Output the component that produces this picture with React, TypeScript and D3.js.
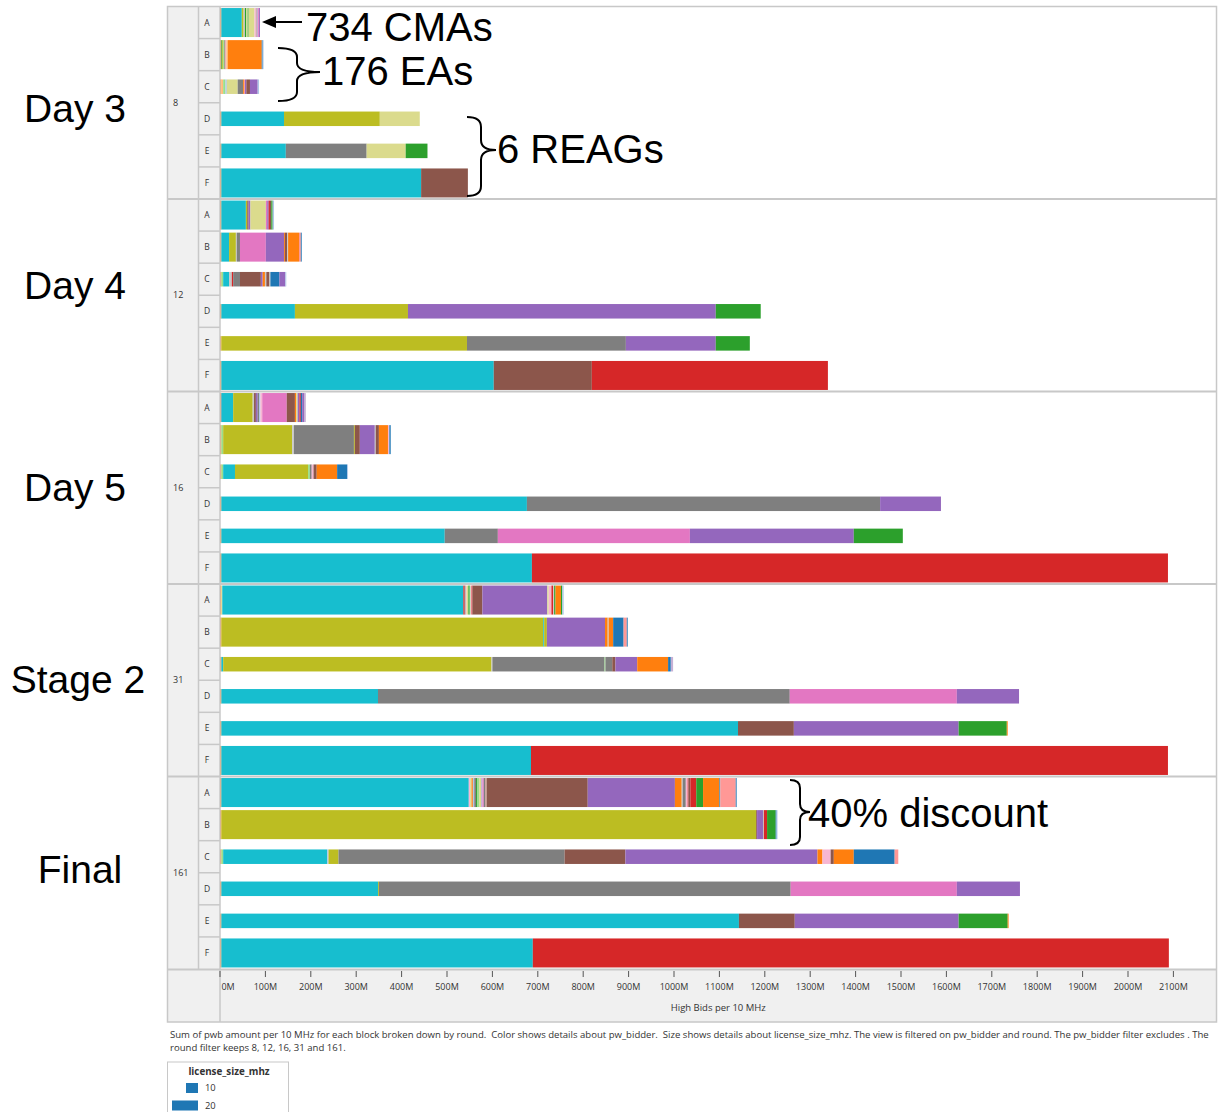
import React from "react";
import * as d3 from "d3";

type Seg = [string, number];

// bidders (pw_bidder)
const CY = "Bidder 01", OL = "Bidder 02", LO = "Bidder 03", GY = "Bidder 04", LG = "Bidder 05";
const PU = "Bidder 06", LP = "Bidder 07", BR = "Bidder 08", LB = "Bidder 09", RD = "Bidder 10";
const LR = "Bidder 11", GR = "Bidder 12", LGR = "Bidder 13", OR = "Bidder 14", LOR = "Bidder 15";
const BL = "Bidder 16", LBL = "Bidder 17", PK = "Bidder 18", LPK = "Bidder 19", LCY = "Bidder 20";

const BIDDERS = [CY, OL, LO, GY, LG, PU, LP, BR, LB, RD, LR, GR, LGR, OR, LOR, BL, LBL, PK, LPK, LCY];
const BIDDER_COLORS = [
  "#17becf", "#bcbd22", "#dbdb8d", "#7f7f7f", "#c7c7c7", "#9467bd", "#c5b0d5", "#8c564b", "#c49c94", "#d62728",
  "#ff9896", "#2ca02c", "#98df8a", "#ff7f0e", "#ffbb78", "#1f77b4", "#aec7e8", "#e377c2", "#f7b6d2", "#9edae5",
];

const ROUNDS = [8, 12, 16, 31, 161];
const ROUND_NAMES = ["Day 3", "Day 4", "Day 5", "Stage 2", "Final"];
const BLOCKS = ["A", "B", "C", "D", "E", "F"];
const LICENSE_SIZE_MHZ = [20, 20, 10, 10, 10, 20];
const X_TICKS = [0, 100, 200, 300, 400, 500, 600, 700, 800, 900, 1000, 1100, 1200, 1300, 1400, 1500, 1600, 1700, 1800, 1900, 2000, 2100];
const LEGEND_SIZES = [10, 20];

// High bids per 10 MHz, in millions, per block, stacked by bidder
const ROUND_8: Seg[][] = [
  [[OR, 3], [CY, 45], [OL, 4], [LG, 3], [GR, 3], [LO, 3], [GR, 2], [LO, 13], [LPK, 3], [LB, 2], [LP, 3], [PK, 2], [PU, 2]],
  [[OR, 3], [GR, 2], [OL, 2], [LGR, 3], [BR, 2], [LPK, 2], [LOR, 3], [OR, 75], [BL, 2], [LBL, 2]],
  [[OR, 3], [LOR, 4], [LGR, 5], [LBL, 3], [LO, 24], [GY, 12], [OR, 2], [LR, 2], [PU, 3], [BR, 8], [PU, 17], [LBL, 3]],
  [[OR, 3], [CY, 138], [OL, 211], [LO, 88]],
  [[OR, 3], [CY, 142], [GY, 178], [LO, 86], [GR, 48]],
  [[OR, 3], [CY, 440], [BR, 103]],
];
const ROUND_12: Seg[][] = [
  [[OR, 3], [CY, 54], [OL, 3], [BR, 3], [PU, 4], [LO, 34], [PK, 3], [PU, 3], [RD, 3], [BR, 3], [GR, 3], [LBL, 3]],
  [[OR, 3], [CY, 17], [OL, 15], [LG, 2], [GY, 7], [PK, 57], [PU, 40], [OR, 2], [BR, 5], [LG, 2], [OR, 24], [LR, 4], [BL, 2]],
  [[OR, 3], [LGR, 4], [CY, 13], [LG, 6], [RD, 3], [GY, 15], [BR, 46], [PU, 4], [OR, 5], [LG, 3], [BR, 7], [LG, 2], [BL, 20], [PU, 13], [LBL, 2]],
  [[OR, 3], [CY, 162], [OL, 249], [PU, 678], [GR, 99]],
  [[OR, 3], [OL, 541], [GY, 350], [PU, 198], [GR, 75]],
  [[OR, 3], [CY, 600], [BR, 216], [RD, 520]],
];
const ROUND_16: Seg[][] = [
  [[OR, 2], [RD, 1], [CY, 26], [OL, 43], [LG, 3], [BR, 4], [PU, 4], [GY, 3], [LBL, 3], [LPK, 4], [PK, 54], [BR, 18], [OR, 3], [LO, 3], [PU, 4], [RD, 3], [BL, 3], [PU, 4], [LP, 4]],
  [[OR, 3], [LGR, 4], [OL, 152], [LG, 4], [GY, 132], [OL, 2], [BR, 11], [PU, 33], [LG, 2], [BR, 7], [OR, 20], [LPK, 3], [BL, 3]],
  [[OR, 3], [LGR, 4], [CY, 26], [OL, 161], [LGR, 4], [GY, 4], [LPK, 4], [BR, 7], [OR, 45], [BL, 22], [LBL, 2]],
  [[OR, 3], [CY, 673], [GY, 778], [PU, 134]],
  [[OR, 3], [CY, 492], [GY, 117], [PK, 423], [PU, 361], [GR, 108]],
  [[OR, 3], [CY, 684], [RD, 1401]],
];
const ROUND_31: Seg[][] = [
  [[OR, 3], [LO, 2], [CY, 531], [RD, 3], [GY, 2], [LPK, 2], [LO, 4], [GR, 3], [LGR, 2], [LPK, 2], [RD, 2], [BR, 22], [PU, 143], [LO, 3], [LPK, 6], [RD, 4], [LG, 2], [GR, 3], [OR, 12], [GR, 3], [LBL, 3]],
  [[OR, 3], [OL, 709], [CY, 2], [OL, 6], [PU, 128], [OR, 6], [LG, 2], [OR, 10], [BL, 23], [LR, 7], [BL, 2]],
  [[OR, 3], [CY, 4], [OL, 591], [LG, 2], [GY, 247], [LGR, 2], [GY, 15], [BR, 7], [PU, 48], [OR, 68], [BL, 6], [LP, 5]],
  [[OR, 3], [CY, 345], [GY, 907], [PK, 368], [PU, 137]],
  [[OR, 3], [CY, 1138], [BR, 123], [PU, 363], [GR, 106], [OR, 2]],
  [[OR, 3], [CY, 682], [RD, 1403]],
];
const ROUND_161: Seg[][] = [
  [[OR, 3], [CY, 545], [LPK, 3], [LO, 3], [OR, 3], [LBL, 3], [GY, 4], [GR, 3], [LGR, 4], [LO, 4], [LP, 3], [PK, 3], [GY, 3], [LB, 4], [BR, 222], [PU, 192], [OR, 15], [LG, 2], [GY, 7], [LPK, 4], [RD, 2], [BR, 4], [RD, 13], [GR, 15], [OR, 36], [BL, 2], [LR, 34], [BL, 2]],
  [[OR, 3], [OL, 1178], [BR, 2], [PU, 13], [LG, 2], [RD, 7], [GR, 19], [BL, 2], [LBL, 2]],
  [[OR, 3], [LGR, 4], [CY, 229], [LBL, 3], [OL, 22], [GY, 498], [BR, 134], [PU, 423], [OR, 11], [LPK, 18], [BR, 7], [OR, 44], [BL, 90], [LR, 8]],
  [[OR, 3], [CY, 345], [OL, 2], [GY, 907], [PK, 366], [PU, 139]],
  [[OR, 3], [CY, 1140], [BR, 123], [PU, 361], [GR, 108], [OR, 2]],
  [[OR, 3], [CY, 686], [RD, 1401]],
];
const ROUND_DATA = [ROUND_8, ROUND_12, ROUND_16, ROUND_31, ROUND_161];

const FOOTNOTE_1 = "Sum of pwb amount per 10 MHz for each block broken down by round.  Color shows details about pw_bidder.  Size shows details about license_size_mhz. The view is filtered on pw_bidder and round. The pw_bidder filter excludes . The";
const FOOTNOTE_2 = "round filter keeps 8, 12, 16, 31 and 161.";

const W = 1221, H = 1112;
const FRAME_L = 167.5, COL2_L = 198.5, PLOT_L = 220, PLOT_R = 1216.5;
const TOP = 6.5, PANEL_H = 192.5, AXIS_H = 53;
const TF = "'Open Sans', 'Noto Sans', sans-serif";
const AF = "'Liberation Sans', Arial, sans-serif";
// hand-placed positions of the large left-hand annotations
const NAME_POS: [number, number][] = [[75, 108], [75, 285], [75, 487], [78, 679], [80, 869]];

function bracePath(x0: number, xb: number, xt: number, y0: number, y1: number, ym: number, r: number) {
  return `M${x0},${y0} Q${xb},${y0} ${xb},${y0 + r} L${xb},${ym - r} Q${xb},${ym} ${xt},${ym} Q${xb},${ym} ${xb},${ym + r} L${xb},${y1 - r} Q${xb},${y1} ${x0},${y1}`;
}

export default function App() {
  const color = d3.scaleOrdinal<string, string>().domain(BIDDERS).range(BIDDER_COLORS);
  const x = d3.scaleLinear().domain([0, 2100]).range([PLOT_L, 1173.4]);
  const panelY = d3.scaleBand<number>().domain(ROUNDS).range([TOP, TOP + PANEL_H * ROUNDS.length]);
  const rowY = d3.scaleBand<string>().domain(BLOCKS).range([0, PANEL_H]);
  const barH = d3.scaleLinear().domain([0, 20]).range([0, 29]);
  const plotBottom = TOP + PANEL_H * ROUNDS.length;
  const axisBottom = plotBottom + AXIS_H;

  return (
    <svg width={W} height={H} style={{ position: "absolute", left: 0, top: 0 }} xmlns="http://www.w3.org/2000/svg">
      <rect x={0} y={0} width={W} height={H} fill="#fff" />
      {/* header columns */}
      <rect x={FRAME_L} y={TOP} width={PLOT_L - FRAME_L} height={plotBottom - TOP} fill="#f0f0f0" />
      <rect x={FRAME_L} y={plotBottom} width={PLOT_R - FRAME_L} height={AXIS_H} fill="#f0f0f0" />

      {ROUNDS.map((r, ri) => {
        const py = panelY(r)!;
        return (
          <g key={r}>
            <text x={173} y={py + PANEL_H / 2} dy="0.35em" fontFamily={TF} fontSize={9} fill="#333">{r}</text>
            {BLOCKS.map((b, bi) => {
              const ry = py + rowY(b)!;
              const h = barH(LICENSE_SIZE_MHZ[bi]);
              const yc = ry + rowY.bandwidth() / 2;
              const segs = ROUND_DATA[ri][bi];
              const ends = Array.from(d3.cumsum(segs.map((s) => s[1])));
              return (
                <g key={b}>
                  {bi > 0 && <line x1={COL2_L} x2={PLOT_L} y1={ry} y2={ry} stroke="#c8c8c8" strokeWidth={1.5} />}
                  <text x={207} y={yc} dy="0.35em" textAnchor="middle" fontFamily={TF} fontSize={8.5} fill="#333">{b}</text>
                  {segs.map((s, si) => {
                    const x0 = x(si === 0 ? 0 : ends[si - 1]);
                    const x1 = x(ends[si]);
                    return <rect key={si} x={x0} y={yc - h / 2} width={Math.max(0, x1 - x0)} height={h} fill={color(s[0])} />;
                  })}
                </g>
              );
            })}
            {ri > 0 && <line x1={FRAME_L} x2={PLOT_R} y1={py} y2={py} stroke="#c8c8c8" strokeWidth={2} />}
          </g>
        );
      })}

      {/* dividers and frame */}
      <line x1={COL2_L} x2={COL2_L} y1={TOP} y2={plotBottom} stroke="#c8c8c8" strokeWidth={1.5} />
      <line x1={PLOT_L} x2={PLOT_L} y1={TOP} y2={axisBottom} stroke="#c8c8c8" strokeWidth={1.5} />
      <line x1={FRAME_L} x2={PLOT_R} y1={plotBottom + 0.5} y2={plotBottom + 0.5} stroke="#c8c8c8" strokeWidth={2} />
      <rect x={FRAME_L} y={TOP} width={PLOT_R - FRAME_L} height={axisBottom - TOP} fill="none" stroke="#c8c8c8" strokeWidth={1.5} />

      {/* x axis */}
      {X_TICKS.map((t, i) => (
        <g key={t}>
          <line x1={x(t)} x2={x(t)} y1={plotBottom + 2} y2={plotBottom + 8} stroke="#555" strokeWidth={1} />
          <text x={i === 0 ? x(t) + 8 : x(t)} y={plotBottom + 18} dy="0.35em" textAnchor="middle" fontFamily={TF} fontSize={9} fill="#333">{`${t}M`}</text>
        </g>
      ))}
      <text x={(PLOT_L + PLOT_R) / 2} y={plotBottom + 39} dy="0.35em" textAnchor="middle" fontFamily={TF} fontSize={9.5} fill="#333">High Bids per 10 MHz</text>

      {/* footnote */}
      <text x={170} y={1035} dy="0.35em" fontFamily={TF} fontSize={9.57} fill="#333" style={{ whiteSpace: "pre" }}>{FOOTNOTE_1}</text>
      <text x={170} y={1047.5} dy="0.35em" fontFamily={TF} fontSize={9.57} fill="#333">{FOOTNOTE_2}</text>

      {/* size legend */}
      <rect x={167.5} y={1062} width={121} height={60} fill="#fff" stroke="#c8c8c8" strokeWidth={1} />
      <text x={229} y={1071.5} dy="0.35em" textAnchor="middle" fontFamily={TF} fontSize={9.8} fontWeight="bold" fill="#333">license_size_mhz</text>
      {LEGEND_SIZES.map((s, i) => {
        const w = s === 10 ? 12 : 26;
        const cy = 1088 + i * 17.5;
        return (
          <g key={s}>
            <rect x={198 - w} y={cy - 5} width={w} height={10} fill="#1f77b4" />
            <text x={205} y={cy} dy="0.35em" fontFamily={TF} fontSize={9.4} fill="#333">{s}</text>
          </g>
        );
      })}

      {/* left annotations */}
      {ROUND_NAMES.map((n, i) => (
        <text key={n} x={NAME_POS[i][0]} y={NAME_POS[i][1]} dy="0.35em" textAnchor="middle" fontFamily={AF} fontSize={39} fill="#000">{n}</text>
      ))}

      {/* callouts */}
      <line x1={302} x2={272} y1={22} y2={22} stroke="#000" strokeWidth={2} />
      <path d="M262,22 L276,16 L276,28 Z" fill="#000" />
      <text x={306} y={27} dy="0.35em" fontFamily={AF} fontSize={40} fill="#000">734 CMAs</text>

      <path d={bracePath(278, 297, 320, 48, 101, 72, 9)} fill="none" stroke="#000" strokeWidth={2} />
      <text x={322} y={71} dy="0.35em" fontFamily={AF} fontSize={40} fill="#000">176 EAs</text>

      <path d={bracePath(467, 481, 496, 117, 196, 150, 10)} fill="none" stroke="#000" strokeWidth={2} />
      <text x={497} y={149} dy="0.35em" fontFamily={AF} fontSize={40} fill="#000">6 REAGs</text>

      <path d={bracePath(790, 800, 810, 780, 845, 812, 8)} fill="none" stroke="#000" strokeWidth={2} />
      <text x={808} y={813} dy="0.35em" fontFamily={AF} fontSize={40} fill="#000">40% discount</text>
    </svg>
  );
}
